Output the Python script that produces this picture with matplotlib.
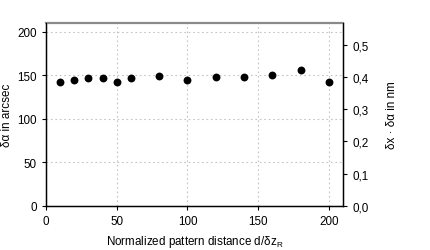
import matplotlib
matplotlib.use("Agg")
import matplotlib.pyplot as plt
from matplotlib.ticker import FuncFormatter

plt.rcParams['font.family'] = ['Liberation Sans', 'DejaVu Sans']
plt.rcParams['font.size'] = 8.4

# data
distance = [10, 20, 30, 40, 50, 60, 80, 100, 120, 140, 160, 180, 200]
delta_alpha = [142, 144, 147, 146.5, 142, 146.5, 149.5, 144.5, 148.5, 148.5, 150.5, 156.5, 142.5]
right_ticks = [0.0, 0.1, 0.2, 0.3, 0.4, 0.5]

fig = plt.figure(figsize=(4.31, 2.51), dpi=100)
ax = fig.add_axes([46 / 431, 1 - 206.7 / 251, (343 - 46) / 431, (206.7 - 24) / 251])

ax.scatter(distance, delta_alpha, s=32, color='black', zorder=3, linewidths=0)
ax.set_xlim(0, 210)
ax.set_ylim(0, 210)
ax.set_xticks([0, 50, 100, 150, 200])
ax.set_yticks([0, 50, 100, 150, 200])
ax.grid(True, linestyle=(0, (1.5, 2.5)), color='#c4c4c4', linewidth=0.8)
ax.set_axisbelow(True)
ax.tick_params(direction='out', length=3, width=0.8)
for s in ['left', 'bottom', 'right']:
    ax.spines[s].set_linewidth(1.0)
ax.spines['top'].set_color('#8a8a8a')
ax.spines['top'].set_linewidth(1.6)

ax.set_xlabel('Normalized pattern distance d/$\\mathregular{\\delta z_R}$', labelpad=4.5)
ax.set_ylabel('δα in arcsec', labelpad=3)

ax2 = ax.twinx()
ax2.set_ylim(0, 0.568)
ax2.set_yticks(right_ticks)
ax2.yaxis.set_major_formatter(FuncFormatter(lambda v, p: ('%.1f' % v).replace('.', ',')))
ax2.tick_params(direction='out', length=3, width=0.8)
ax2.spines['top'].set_visible(False)
ax2.set_ylabel('δx · δα in nm', labelpad=13)

fig.savefig('out.png', dpi=100)
